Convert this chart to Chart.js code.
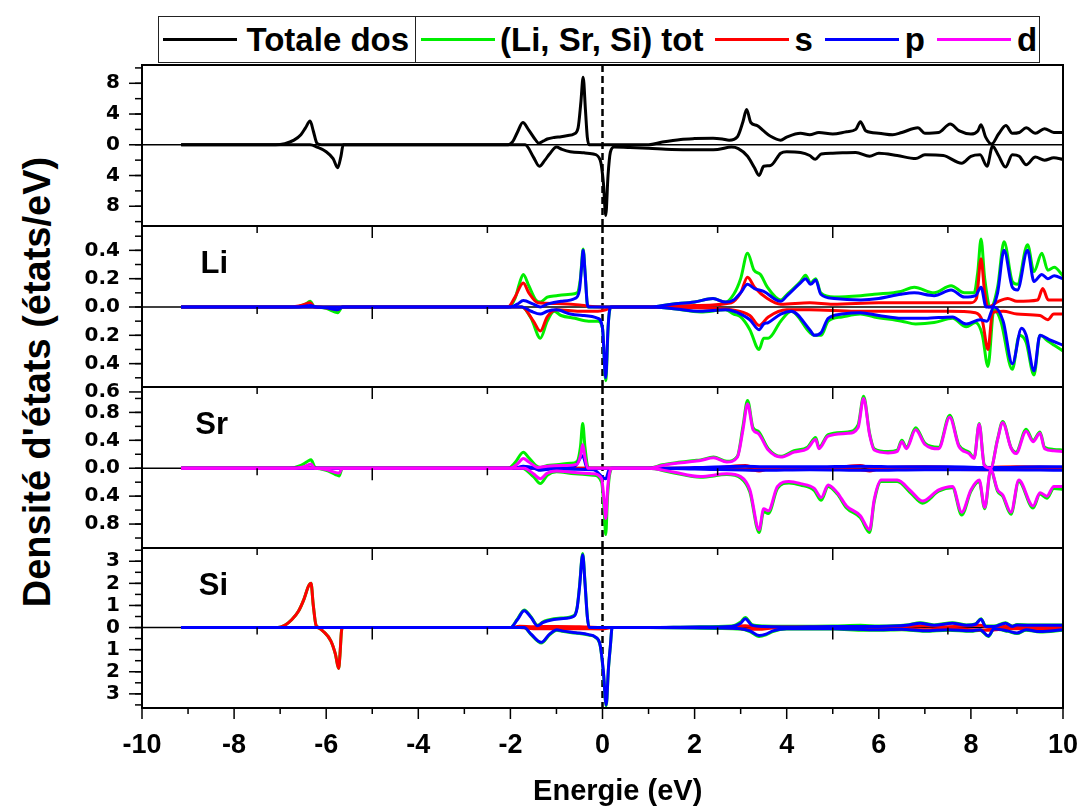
<!DOCTYPE html>
<html>
<head>
<meta charset="utf-8">
<title>DOS</title>
<script src="https://cdn.jsdelivr.net/npm/chart.js@4.4.1/dist/chart.umd.min.js"></script>
<style>
  html, body { margin: 0; padding: 0; background: #fff; }
  #page { position: relative; width: 1078px; height: 810px; overflow: hidden; background: #fff;
          font-family: 'Liberation Sans', Arial, sans-serif; font-weight: bold; color: #000; }
  #page canvas { position: absolute; left: 0; }
  #legend { position: absolute; left: 158px; top: 16px; width: 882px; height: 47px; box-sizing: border-box;
            border: 1.5px solid #222; display: flex; font-size: 33px; line-height: 1; }
  .cell { display: flex; align-items: center; height: 100%; box-sizing: border-box; }
  .ln { display: inline-block; width: 74px; height: 3px; }
  #ytitle { position: absolute; left: 37px; top: 382px; transform: translate(-50%, -50%) rotate(-90deg);
            white-space: nowrap; font-size: 38px; }
</style>
</head>
<body>
<div id="page">
  <div id="legend"></div>
  <div id="ytitle">Densité d'états (états/eV)</div>
</div>
<script>
// energy axis
const xTicks = [-10, -8, -6, -4, -2, 0, 2, 4, 6, 8, 10];
const xTitle = 'Energie (eV)';

const legendLabels = ['Totale dos', '(Li, Sr, Si) tot', 's', 'p', 'd'];
const legendColors = ['#000000', '#00ee00', '#ff0000', '#0000ff', '#ff00ff'];
const panelNames = ['', 'Li', 'Sr', 'Si'];

// ---- Totale dos (spin up / spin down) ----
const totTicks = [-8, -4, 0, 4, 8];
const totUp = [[-9.15,0],[-7.1,0],[-6.9,0.15],[-6.7,0.6],[-6.55,1.3],[-6.45,2.2],[-6.35,3.1],[-6.28,1.8],[-6.2,0.2],[-6.1,0],
  [-2.05,0],[-1.95,0.4],[-1.85,1.6],[-1.73,2.9],[-1.6,1.9],[-1.45,0.6],[-1.38,0.2],[-1.28,0.5],[-1.2,0.75],[-1.05,0.95],[-0.9,1.05],[-0.75,1.2],[-0.62,1.4],[-0.53,2.2],[-0.47,5.5],[-0.42,8.8],[-0.37,4.5],[-0.33,1.0],[-0.29,0],
  [1.0,0],[1.3,0.35],[1.7,0.7],[2.0,0.8],[2.4,0.85],[2.6,0.75],[2.75,0.6],[2.93,1.05],[3.05,3.0],[3.13,4.6],[3.22,2.9],[3.36,2.5],[3.5,1.8],[3.65,1.1],[3.87,0.6],
  [4.0,1.0],[4.3,1.5],[4.5,1.3],[4.7,1.6],[5.0,1.4],[5.3,1.7],[5.5,2.0],[5.6,3.0],[5.72,1.8],[6.0,1.5],[6.3,1.3],[6.5,1.6],[6.85,2.2],[7.0,1.5],[7.3,1.6],[7.55,2.7],[7.75,1.8],[8.0,1.4],[8.15,1.8],[8.22,2.6],[8.32,1.0],[8.45,0.1],[8.6,1.4],[8.76,2.5],[8.9,1.5],[9.05,1.6],[9.2,2.2],[9.4,1.5],[9.6,2.1],[9.8,1.6],[10,1.6]];
const totDn = [[-9.15,0],[-6.35,0],[-6.2,-0.3],[-6.0,-0.9],[-5.85,-1.8],[-5.75,-3.0],[-5.68,-1.5],[-5.63,0],
  [-1.68,0],[-1.5,-1.6],[-1.37,-2.8],[-1.25,-2.0],[-1.15,-1.2],[-1.0,-0.3],[-0.88,-0.6],[-0.7,-0.9],[-0.4,-1.05],[-0.2,-1.2],[-0.05,-2.0],[0.02,-5.0],[0.07,-9.2],[0.12,-4.0],[0.17,-1.0],[0.25,-0.3],[0.6,-0.35],[1.0,-0.45],[1.5,-0.6],[2.0,-0.65],[2.5,-0.6],[2.8,-0.3],[2.95,-0.5],[3.15,-1.5],[3.3,-3.0],[3.4,-4.0],[3.5,-2.8],[3.65,-2.7],[3.87,-1.1],
  [4.0,-0.9],[4.3,-1.0],[4.5,-1.4],[4.62,-1.9],[4.75,-1.2],[5.0,-1.1],[5.5,-1.0],[5.8,-1.5],[6.0,-1.1],[6.4,-1.4],[6.8,-1.8],[7.0,-1.3],[7.4,-1.4],[7.8,-2.4],[8.0,-1.5],[8.2,-1.3],[8.35,-2.8],[8.47,-0.2],[8.6,-1.4],[8.75,-2.9],[8.9,-1.3],[9.05,-1.5],[9.2,-2.6],[9.4,-1.6],[9.6,-2.0],[9.8,-1.7],[10,-1.9]];

// ---- Li ----
const liTicks = [-0.6, -0.4, -0.2, 0, 0.2, 0.4];
const liTotUp = [[-9.15,0],[-6.7,0],[-6.45,0.02],[-6.35,0.04],[-6.25,0],[-2.05,0],[-1.9,0.06],[-1.8,0.17],[-1.72,0.23],[-1.6,0.15],[-1.45,0.05],[-1.35,0.035],[-1.2,0.07],[-1.0,0.08],[-0.7,0.09],[-0.55,0.1],[-0.48,0.2],[-0.42,0.41],[-0.37,0.2],[-0.32,0],
  [1.0,0],[1.5,0.02],[2.0,0.035],[2.4,0.06],[2.67,0.035],[2.85,0.09],[3.0,0.2],[3.15,0.38],[3.29,0.26],[3.43,0.23],[3.58,0.14],[3.87,0.05],[4.01,0.09],[4.3,0.18],[4.41,0.225],[4.52,0.17],[4.63,0.2],[4.74,0.1],[5.03,0.07],[5.61,0.08],[5.9,0.09],[6.48,0.11],[6.77,0.14],[7.2,0.1],[7.57,0.15],[7.86,0.1],[8.07,0.1],[8.15,0.25],[8.22,0.48],[8.3,0.2],[8.43,0],[8.58,0.14],[8.72,0.46],[8.9,0.18],[9.01,0.16],[9.23,0.44],[9.37,0.25],[9.54,0.38],[9.67,0.26],[9.81,0.28],[10,0.22]];
const liTotDn = [[-9.15,0],[-6.3,0],[-6.0,-0.01],[-5.75,-0.04],[-5.65,0],[-1.75,0],[-1.55,-0.08],[-1.35,-0.22],[-1.2,-0.1],[-1.05,-0.03],[-0.9,-0.06],[-0.6,-0.08],[-0.3,-0.1],[-0.1,-0.1],[0.0,-0.15],[0.07,-0.52],[0.13,-0.1],[0.2,0],
  [1.0,0],[1.5,-0.01],[2.13,-0.035],[2.67,-0.02],[2.85,-0.05],[3.0,-0.07],[3.2,-0.16],[3.4,-0.3],[3.5,-0.22],[3.6,-0.22],[3.87,-0.1],[4.1,-0.03],[4.5,-0.18],[4.6,-0.2],[4.75,-0.2],[4.9,-0.1],[5.2,-0.07],[5.6,-0.05],[5.9,-0.07],[6.5,-0.1],[6.8,-0.12],[7.2,-0.11],[7.6,-0.08],[7.9,-0.14],[8.1,-0.11],[8.25,-0.2],[8.37,-0.42],[8.5,-0.02],[8.65,-0.1],[8.9,-0.44],[9.05,-0.2],[9.2,-0.25],[9.37,-0.48],[9.5,-0.2],[9.67,-0.24],[9.81,-0.27],[10,-0.31]];
const liSUp = [[-9.15,0],[-6.8,0],[-6.5,0.015],[-6.35,0.03],[-6.25,0],[-2.05,0],[-1.9,0.07],[-1.72,0.17],[-1.6,0.1],[-1.4,0.03],[-1.0,0.025],[-0.5,0.015],[-0.3,0.005],[0,0],
  [1.0,0],[2.0,0.01],[2.8,0.03],[3.0,0.1],[3.15,0.21],[3.3,0.14],[3.58,0.06],[3.87,0.02],[4.5,0.03],[5.0,0.02],[6.0,0.03],[7.0,0.03],[8.0,0.03],[8.12,0.06],[8.22,0.34],[8.3,0.1],[8.38,0],[8.6,0.04],[8.8,0.06],[9.0,0.04],[9.45,0.05],[9.56,0.13],[9.68,0.05],[10,0.05]];
const liSDn = [[-9.15,0],[-6.3,0],[-5.9,-0.01],[-5.75,-0.02],[-5.65,0],[-1.75,0],[-1.5,-0.1],[-1.35,-0.17],[-1.2,-0.07],[-1.0,-0.02],[-0.5,-0.03],[-0.1,-0.03],[0.07,-0.02],[0.2,0],
  [1.0,0],[2.0,-0.005],[2.8,-0.02],[3.2,-0.06],[3.4,-0.13],[3.6,-0.07],[4.0,-0.02],[4.5,-0.02],[5.5,-0.03],[6.5,-0.03],[7.5,-0.03],[8.1,-0.04],[8.25,-0.1],[8.37,-0.3],[8.47,-0.04],[8.7,-0.03],[9.0,-0.05],[9.5,-0.06],[9.67,-0.09],[9.8,-0.05],[10,-0.05]];
const liPUp = [[-9.15,0],[-6.6,0],[-6.35,0.01],[-6.2,0],[-2.0,0],[-1.85,0.02],[-1.72,0.045],[-1.5,0.02],[-1.35,0],[-1.2,0.02],[-0.9,0.04],[-0.6,0.06],[-0.5,0.12],[-0.45,0.3],[-0.42,0.4],[-0.38,0.25],[-0.33,0.02],[-0.3,0],
  [1.0,0],[1.5,0.02],[2.0,0.035],[2.4,0.06],[2.67,0.035],[2.85,0.05],[3.0,0.1],[3.15,0.16],[3.3,0.13],[3.5,0.11],[3.87,0.04],[4.01,0.08],[4.3,0.17],[4.41,0.2],[4.52,0.16],[4.63,0.19],[4.74,0.09],[5.03,0.06],[5.61,0.05],[6.0,0.06],[6.48,0.09],[6.77,0.1],[7.2,0.08],[7.57,0.12],[7.86,0.07],[8.1,0.08],[8.22,0.14],[8.33,0],[8.45,0],[8.58,0.1],[8.72,0.4],[8.9,0.14],[9.01,0.12],[9.23,0.4],[9.37,0.18],[9.54,0.23],[9.67,0.2],[9.81,0.22],[10,0.2]];
const liPDn = [[-9.15,0],[-6.3,0],[-6.0,-0.005],[-5.75,-0.02],[-5.65,0],[-1.75,0],[-1.55,-0.03],[-1.35,-0.05],[-1.2,-0.03],[-1.0,-0.02],[-0.7,-0.05],[-0.4,-0.06],[-0.1,-0.08],[0.0,-0.15],[0.07,-0.5],[0.12,-0.15],[0.17,0],
  [1.0,0],[1.5,-0.01],[2.13,-0.03],[2.67,-0.02],[2.85,-0.03],[3.0,-0.05],[3.2,-0.09],[3.4,-0.16],[3.5,-0.12],[3.6,-0.11],[3.87,-0.05],[4.1,-0.03],[4.5,-0.16],[4.6,-0.2],[4.75,-0.18],[4.9,-0.08],[5.2,-0.05],[5.6,-0.04],[6.0,-0.06],[6.5,-0.08],[7.0,-0.08],[7.6,-0.07],[7.9,-0.12],[8.2,-0.09],[8.35,-0.1],[8.5,0],[8.7,-0.1],[8.9,-0.4],[9.1,-0.15],[9.2,-0.2],[9.37,-0.45],[9.5,-0.2],[9.7,-0.23],[10,-0.27]];

// ---- Sr ----
const srTicks = [-0.8, -0.4, 0, 0.4, 0.8];
const srTotUp = [[-9.15,0],[-6.8,0],[-6.55,0.04],[-6.4,0.1],[-6.33,0.12],[-6.25,0.02],[-6.2,0],
  [-2.05,0],[-1.9,0.08],[-1.72,0.23],[-1.6,0.15],[-1.45,0.04],[-1.35,0.01],[-1.2,0.04],[-1.0,0.05],[-0.7,0.07],[-0.55,0.1],[-0.48,0.3],[-0.43,0.64],[-0.38,0.3],[-0.32,0.02],[-0.28,0],
  [1.0,0],[1.3,0.05],[1.6,0.08],[2.0,0.11],[2.13,0.12],[2.41,0.16],[2.7,0.1],[2.93,0.17],[3.05,0.6],[3.15,0.97],[3.27,0.58],[3.38,0.53],[3.6,0.28],[3.87,0.17],[4.16,0.25],[4.45,0.3],[4.63,0.44],[4.7,0.3],[4.9,0.48],[5.33,0.52],[5.55,0.62],[5.67,1.03],[5.8,0.5],[5.9,0.28],[6.2,0.24],[6.4,0.26],[6.5,0.4],[6.6,0.3],[6.8,0.58],[7.0,0.36],[7.3,0.3],[7.54,0.76],[7.74,0.33],[7.96,0.23],[8.07,0.15],[8.18,0.64],[8.29,0.05],[8.43,0],[8.58,0.42],[8.69,0.67],[8.87,0.3],[8.98,0.23],[9.2,0.56],[9.35,0.4],[9.5,0.52],[9.6,0.3],[9.8,0.27],[10,0.26]];
const srTotDn = [[-9.15,0],[-6.25,0],[-6.0,-0.03],[-5.8,-0.09],[-5.72,-0.11],[-5.65,0],
  [-1.75,0],[-1.5,-0.12],[-1.35,-0.22],[-1.2,-0.1],[-1.0,-0.05],[-0.6,-0.08],[-0.2,-0.1],[-0.02,-0.2],[0.04,-0.65],[0.07,-0.95],[0.11,-0.4],[0.16,-0.07],[0.22,0],
  [1.0,0],[1.5,-0.06],[2.13,-0.13],[2.7,-0.09],[3.0,-0.14],[3.2,-0.34],[3.4,-0.92],[3.5,-0.62],[3.6,-0.65],[3.8,-0.29],[4.05,-0.21],[4.3,-0.24],[4.6,-0.32],[4.75,-0.46],[4.9,-0.26],[5.1,-0.37],[5.3,-0.57],[5.6,-0.71],[5.8,-0.92],[5.9,-0.48],[6.05,-0.19],[6.4,-0.19],[6.7,-0.36],[6.95,-0.5],[7.3,-0.33],[7.6,-0.28],[7.8,-0.67],[8.0,-0.33],[8.18,-0.19],[8.3,-0.58],[8.43,-0.03],[8.58,-0.33],[8.69,-0.4],[8.87,-0.66],[9.04,-0.19],[9.35,-0.57],[9.5,-0.37],[9.65,-0.43],[9.8,-0.29],[10,-0.3]];
const srSUp = [[-9.15,0],[-1.9,0],[-1.72,0.02],[-1.5,0],[1.0,0],[2.5,0.01],[3.1,0.04],[3.3,0.01],[5.0,0.01],[5.6,0.04],[5.8,0.01],[7.0,0.02],[8.0,0.01],[9.0,0.02],[10,0.01]];
const srSDn = [[-9.15,0],[-1.5,0],[-1.35,-0.02],[-1.1,0],[1.0,0],[3.2,-0.02],[3.4,-0.04],[3.6,-0.01],[5.6,-0.02],[5.8,-0.04],[6.0,-0.01],[8.3,-0.02],[10,-0.01]];
const srPUp = [[-9.15,0],[-1.9,0],[-1.72,0.03],[-1.5,0.01],[-0.6,0.03],[-0.43,0.18],[-0.35,0.02],[-0.3,0],[1.0,0],[2.0,0.01],[3.1,0.03],[3.5,0.02],[4.5,0.02],[5.6,0.03],[6.5,0.02],[7.5,0.02],[8.5,0.01],[9.5,0.02],[10,0.02]];
const srPDn = [[-9.15,0],[-1.5,0],[-1.35,-0.03],[-1.1,-0.01],[-0.2,-0.02],[0.07,-0.15],[0.15,-0.01],[0.2,0],[1.0,0],[2.0,-0.01],[3.4,-0.03],[4.5,-0.02],[5.8,-0.03],[7.0,-0.02],[8.5,-0.02],[10,-0.03]];
const srDUp = [[-9.15,0],[-6.7,0],[-6.45,0.03],[-6.33,0.06],[-6.25,0],
  [-2.0,0],[-1.85,0.06],[-1.72,0.14],[-1.6,0.09],[-1.4,0.01],[-1.2,0.03],[-0.8,0.04],[-0.55,0.06],[-0.47,0.2],[-0.43,0.34],[-0.38,0.15],[-0.32,0],
  [1.0,0],[1.3,0.04],[1.6,0.07],[2.0,0.1],[2.13,0.11],[2.41,0.15],[2.7,0.09],[2.93,0.16],[3.05,0.55],[3.15,0.92],[3.27,0.55],[3.38,0.5],[3.6,0.26],[3.87,0.16],[4.16,0.23],[4.45,0.28],[4.63,0.41],[4.7,0.28],[4.9,0.46],[5.33,0.5],[5.55,0.58],[5.67,1.0],[5.8,0.48],[5.9,0.26],[6.2,0.22],[6.4,0.24],[6.5,0.38],[6.6,0.28],[6.8,0.55],[7.0,0.34],[7.3,0.28],[7.54,0.73],[7.74,0.31],[7.96,0.21],[8.07,0.14],[8.18,0.63],[8.29,0.04],[8.43,0],[8.58,0.41],[8.69,0.65],[8.87,0.29],[8.98,0.21],[9.2,0.53],[9.35,0.38],[9.5,0.5],[9.6,0.28],[9.8,0.25],[10,0.24]];
const srDDn = [[-9.15,0],[-6.25,0],[-6.0,-0.02],[-5.8,-0.06],[-5.72,-0.07],[-5.65,0],
  [-1.7,0],[-1.5,-0.08],[-1.35,-0.15],[-1.2,-0.07],[-1.0,-0.04],[-0.6,-0.06],[-0.2,-0.08],[-0.02,-0.15],[0.04,-0.5],[0.07,-0.72],[0.11,-0.3],[0.16,-0.05],[0.22,0],
  [1.0,0],[1.5,-0.05],[2.13,-0.12],[2.7,-0.08],[3.0,-0.12],[3.2,-0.31],[3.4,-0.88],[3.5,-0.58],[3.6,-0.61],[3.8,-0.26],[4.05,-0.19],[4.3,-0.22],[4.6,-0.29],[4.75,-0.42],[4.9,-0.24],[5.1,-0.35],[5.3,-0.54],[5.6,-0.68],[5.8,-0.88],[5.9,-0.45],[6.05,-0.17],[6.4,-0.17],[6.7,-0.33],[6.95,-0.47],[7.3,-0.31],[7.6,-0.26],[7.8,-0.63],[8.0,-0.31],[8.18,-0.17],[8.3,-0.56],[8.43,-0.02],[8.58,-0.31],[8.69,-0.38],[8.87,-0.63],[9.04,-0.17],[9.35,-0.54],[9.5,-0.35],[9.65,-0.4],[9.8,-0.26],[10,-0.26]];

// ---- Si ----
const siTicks = [-3, -2, -1, 0, 1, 2, 3];
const siTotUp = [[-9.15,0],[-7.05,0],[-6.9,0.1],[-6.75,0.35],[-6.6,0.75],[-6.48,1.3],[-6.38,1.9],[-6.33,2.0],[-6.28,1.0],[-6.22,0.1],[-6.15,0],
  [-2.0,0],[-1.85,0.38],[-1.7,0.8],[-1.55,0.48],[-1.41,0.1],[-1.3,0.25],[-1.2,0.33],[-0.9,0.43],[-0.62,0.54],[-0.55,0.93],[-0.5,1.85],[-0.43,3.35],[-0.38,2.05],[-0.33,0.52],[-0.29,0],
  [1.0,0],[2.0,0.03],[2.8,0.07],[3.0,0.25],[3.1,0.45],[3.25,0.13],[3.5,0.07],[4.0,0.06],[5.0,0.07],[5.6,0.1],[6.0,0.07],[6.6,0.12],[6.9,0.22],[7.2,0.12],[7.6,0.22],[7.9,0.12],[8.1,0.17],[8.22,0.4],[8.32,0.07],[8.5,0.07],[8.75,0.22],[8.9,0.07],[9.0,0.14],[9.3,0.12],[9.6,0.12],[10,0.12]];
const siTotDn = [[-9.15,0],[-6.2,0],[-6.05,-0.2],[-5.9,-0.6],[-5.8,-1.2],[-5.73,-1.85],[-5.7,-1.2],[-5.67,-0.2],[-5.65,0],
  [-1.7,0],[-1.55,-0.32],[-1.33,-0.7],[-1.15,-0.33],[-0.99,-0.12],[-0.88,-0.17],[-0.58,-0.25],[-0.3,-0.34],[-0.16,-0.44],[-0.05,-0.82],[0.02,-2.05],[0.08,-3.55],[0.13,-1.85],[0.17,-0.87],[0.21,0],
  [1.0,0],[2.5,-0.04],[3.0,-0.07],[3.2,-0.18],[3.4,-0.4],[3.55,-0.33],[3.7,-0.18],[4.0,-0.07],[5.0,-0.07],[5.7,-0.12],[6.0,-0.12],[6.5,-0.1],[7.0,-0.17],[7.5,-0.12],[8.0,-0.17],[8.2,-0.12],[8.38,-0.4],[8.5,-0.07],[8.8,-0.17],[9.0,-0.27],[9.2,-0.12],[9.5,-0.2],[10,-0.12]];
const siSUp = [[-9.15,0],[-7.05,0],[-6.9,0.1],[-6.75,0.35],[-6.6,0.75],[-6.48,1.3],[-6.38,1.9],[-6.33,2.0],[-6.28,1.0],[-6.22,0.1],[-6.15,0],
  [-2.0,0],[-1.8,0.06],[-1.5,0.04],[-1.0,0.05],[-0.5,0.04],[-0.3,0.02],[0,0],[2.5,0],[3.1,0.08],[3.4,0.02],[5.0,0.02],[6.5,0.05],[7.0,0.08],[7.5,0.04],[8.2,0.1],[8.4,0],[8.8,0.06],[9.5,0.04],[10,0.05]];
const siSDn = [[-9.15,0],[-6.2,0],[-6.05,-0.2],[-5.9,-0.6],[-5.8,-1.2],[-5.73,-1.85],[-5.7,-1.2],[-5.67,-0.2],[-5.65,0],
  [-1.8,0],[-1.5,-0.05],[-1.0,-0.05],[-0.5,-0.05],[0,-0.06],[0.2,0],[2.5,0],[3.4,-0.08],[3.7,-0.02],[6.0,-0.03],[7.0,-0.1],[7.5,-0.05],[8.0,-0.1],[8.4,-0.12],[8.8,-0.05],[9.5,-0.06],[10,-0.05]];
const siPUp = [[-9.15,0],[-2.0,0],[-1.85,0.35],[-1.7,0.76],[-1.55,0.45],[-1.41,0.08],[-1.3,0.22],[-1.2,0.3],[-0.9,0.4],[-0.62,0.51],[-0.55,0.9],[-0.5,1.8],[-0.43,3.3],[-0.38,2.0],[-0.33,0.5],[-0.29,0],
  [1.0,0],[2.0,0.02],[2.8,0.05],[3.0,0.2],[3.1,0.4],[3.25,0.1],[3.5,0.05],[4.0,0.03],[5.0,0.05],[6.0,0.05],[6.6,0.1],[6.9,0.2],[7.2,0.1],[7.6,0.2],[7.9,0.1],[8.1,0.15],[8.22,0.38],[8.32,0.05],[8.5,0.05],[8.75,0.2],[8.9,0.05],[9.0,0.12],[9.3,0.1],[9.6,0.1],[10,0.1]];
const siPDn = [[-9.15,0],[-1.7,0],[-1.55,-0.3],[-1.33,-0.67],[-1.15,-0.3],[-0.99,-0.1],[-0.88,-0.15],[-0.58,-0.23],[-0.3,-0.32],[-0.16,-0.42],[-0.05,-0.8],[0.02,-2.0],[0.08,-3.5],[0.13,-1.8],[0.17,-0.85],[0.21,0],
  [1.0,0],[2.5,-0.02],[3.0,-0.05],[3.2,-0.15],[3.4,-0.36],[3.55,-0.3],[3.7,-0.15],[4.0,-0.05],[5.0,-0.05],[6.0,-0.1],[6.5,-0.08],[7.0,-0.15],[7.5,-0.1],[8.0,-0.15],[8.2,-0.1],[8.38,-0.38],[8.5,-0.05],[8.8,-0.15],[9.0,-0.25],[9.2,-0.1],[9.5,-0.18],[10,-0.1]];

const BLACK = legendColors[0], GREEN = legendColors[1], RED = legendColors[2], BLUE = legendColors[3], MAG = legendColors[4];

// first series in each list is drawn on top
const panels = [
  { top: 65, bottom: 226, min: -10.57, max: 10.38, ticks: totTicks, minor: 2, digits: 0, label: panelNames[0], inner: false,
    series: [[totUp, BLACK], [totDn, BLACK]], width: 3 },
  { top: 226, bottom: 387, min: -0.565, max: 0.572, ticks: liTicks, minor: 0.1, digits: 1, label: panelNames[1], inner: true,
    series: [[liPUp, BLUE], [liPDn, BLUE], [liSUp, RED], [liSDn, RED], [liTotUp, GREEN], [liTotDn, GREEN]], width: 3 },
  { top: 387, bottom: 548, min: -1.143, max: 1.164, ticks: srTicks, minor: 0.2, digits: 1, label: panelNames[2], inner: true,
    series: [[srDUp, MAG], [srDDn, MAG], [srPUp, BLUE], [srPDn, BLUE], [srSUp, RED], [srSDn, RED], [srTotUp, GREEN], [srTotDn, GREEN]], width: 3 },
  { top: 548, bottom: 708, min: -3.64, max: 3.6, ticks: siTicks, minor: 0.5, digits: 0, label: panelNames[3], inner: true, last: true,
    series: [[siPUp, BLUE], [siPDn, BLUE], [siSUp, RED], [siSDn, RED], [siTotUp, GREEN], [siTotDn, GREEN]], width: 3 }
];

const PAD = 20;
const FONT = "'Liberation Sans', Arial, sans-serif";

function seg(ctx, x1, y1, x2, y2) {
  ctx.beginPath();
  ctx.moveTo(x1, y1);
  ctx.lineTo(x2, y2);
  ctx.stroke();
}

const decor = {
  id: 'decor',
  beforeDatasetsDraw(chart) {
    const { ctx, chartArea: a } = chart;
    const y0 = chart.scales.y.getPixelForValue(0);
    const x0 = chart.scales.x.getPixelForValue(0);
    ctx.save();
    ctx.strokeStyle = '#000';
    ctx.lineWidth = 1.5;
    seg(ctx, a.left, y0, a.right, y0);
    // Fermi level
    ctx.lineWidth = 2.5;
    ctx.setLineDash([7, 4]);
    seg(ctx, x0, a.top, x0, a.bottom);
    ctx.restore();
  },
  afterDraw(chart) {
    const o = chart.options.plugins.decor;
    const { ctx, chartArea: a } = chart;
    const x = chart.scales.x, y = chart.scales.y;
    ctx.save();
    ctx.strokeStyle = '#000';
    ctx.lineWidth = 1.5;

    // y ticks, outward
    const eps = o.minor * 1e-3;
    for (let k = Math.ceil((y.min - eps) / o.minor); k * o.minor <= y.max + eps; k++) {
      const py = y.getPixelForValue(k * o.minor);
      seg(ctx, a.left - 7, py, a.left, py);
    }
    o.ticks.forEach(t => {
      const py = y.getPixelForValue(t);
      seg(ctx, a.left - 13, py, a.left, py);
    });

    // x ticks on the top edge and on the zero line, pointing down
    if (o.inner) {
      const y0 = y.getPixelForValue(0);
      for (let v = -7.5; v <= 7.5; v += 2.5) {
        if (v === 0) continue;
        const px = x.getPixelForValue(v);
        const len = v % 5 === 0 ? 12 : 7;
        seg(ctx, px, a.top, px, a.top + len);
        seg(ctx, px, y0, px, y0 + len);
      }
    }

    // bottom energy axis, outward, with its title
    if (o.last) {
      for (let v = -10; v <= 10; v++) {
        const px = x.getPixelForValue(v);
        seg(ctx, px, a.bottom, px, a.bottom + (v % 2 === 0 ? 11 : 6));
      }
      ctx.fillStyle = '#000';
      ctx.font = 'bold 29px ' + FONT;
      ctx.textAlign = 'center';
      ctx.textBaseline = 'alphabetic';
      ctx.fillText(xTitle, x.getPixelForValue(0.33), a.bottom + 92);
    }

    // frame
    ctx.lineWidth = 2;
    ctx.strokeRect(a.left, a.top, a.right - a.left, a.bottom - a.top);

    if (o.label) {
      ctx.fillStyle = '#000';
      ctx.font = 'bold 31px ' + FONT;
      ctx.textAlign = 'right';
      ctx.textBaseline = 'alphabetic';
      ctx.fillText(o.label, a.left + 86, a.top + 47);
    }
    ctx.restore();
  }
};

function makePanel(p) {
  const canvas = document.createElement('canvas');
  const top = p.top - PAD;
  const height = (p.last ? 810 : p.bottom + PAD) - top;
  canvas.width = 1078;
  canvas.height = height;
  canvas.style.top = top + 'px';
  document.getElementById('page').appendChild(canvas);

  const xScale = p.last ? {
    type: 'linear', min: -10, max: 10,
    afterBuildTicks: s => { s.ticks = xTicks.map(v => ({ value: v })); },
    afterFit: s => { s.height = 810 - p.bottom; s.paddingLeft = 0; s.paddingRight = 0; },
    grid: { display: false, drawTicks: false },
    border: { display: false },
    ticks: { autoSkip: false, maxRotation: 0, padding: 21, color: '#000',
             font: { family: FONT, weight: 'bold', size: 27 }, callback: v => String(v) }
  } : { type: 'linear', min: -10, max: 10, display: false };

  return new Chart(canvas, {
    type: 'line',
    data: {
      datasets: p.series.map(([data, color]) => ({
        data: data,
        borderColor: color,
        borderWidth: p.width,
        pointRadius: 0,
        fill: false,
        cubicInterpolationMode: 'monotone'
      }))
    },
    options: {
      responsive: false,
      animation: false,
      devicePixelRatio: 1,
      events: [],
      layout: { padding: { top: PAD, bottom: p.last ? 0 : PAD, left: 0, right: 15 } },
      scales: {
        x: xScale,
        y: {
          type: 'linear', min: p.min, max: p.max,
          afterBuildTicks: s => { s.ticks = p.ticks.map(v => ({ value: v })); },
          afterFit: s => { s.width = 142; s.paddingTop = 0; s.paddingBottom = 0; },
          grid: { display: false, drawTicks: false },
          border: { display: false },
          ticks: { autoSkip: false, padding: 22, color: '#000',
                   font: { family: 'DejaVu Sans', weight: 'bold', size: 20 },
                   callback: v => Math.abs(v).toFixed(p.digits) }
        }
      },
      plugins: {
        legend: { display: false },
        tooltip: { enabled: false },
        decor: { minor: p.minor, ticks: p.ticks, inner: p.inner, last: !!p.last, label: p.label }
      }
    },
    plugins: [decor]
  });
}

function buildLegend() {
  const box = document.getElementById('legend');
  const cell1 = document.createElement('div');
  cell1.className = 'cell';
  cell1.style.width = '257px';
  cell1.style.borderRight = '1.5px solid #222';
  const cell2 = document.createElement('div');
  cell2.className = 'cell';
  // gap before each line, gap between line and text
  const spacing = [[3.5, 10], [5, 5], [11, 6], [12, 6], [12, 6]];
  legendLabels.forEach((txt, i) => {
    const ln = document.createElement('span');
    ln.className = 'ln';
    ln.style.background = legendColors[i];
    ln.style.marginLeft = spacing[i][0] + 'px';
    const tx = document.createElement('span');
    tx.textContent = txt;
    tx.style.marginLeft = spacing[i][1] + 'px';
    const cell = i === 0 ? cell1 : cell2;
    cell.appendChild(ln);
    cell.appendChild(tx);
  });
  box.appendChild(cell1);
  box.appendChild(cell2);
}

buildLegend();
panels.forEach(makePanel);
</script>
</body>
</html>
